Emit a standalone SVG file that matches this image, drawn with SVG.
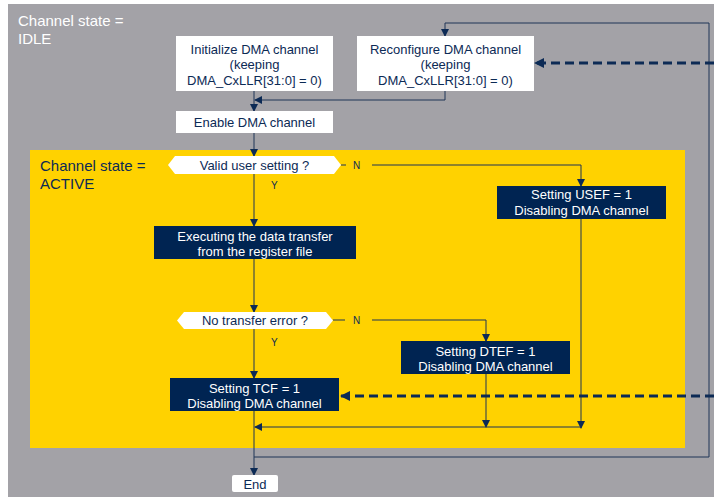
<svg xmlns="http://www.w3.org/2000/svg" width="714" height="497" viewBox="0 0 714 497">
  <style>
    .t { font-family: "Liberation Sans", Arial, sans-serif; font-size: 13px; text-anchor: middle; }
    .dk { fill: #0c2a55; }
    .wt { fill: #ffffff; }
    .lbl { font-family: "Liberation Sans", Arial, sans-serif; font-size: 10px; fill: #0c2a55; }
    .state { font-family: "Liberation Sans", Arial, sans-serif; font-size: 15px; }
    .wbox { fill: #ffffff; }
    .nbox { fill: #002452; }
    .ln { fill: none; stroke: #1f3556; stroke-width: 1; }
    .dash { fill: none; stroke: #0c2a55; stroke-width: 3; stroke-dasharray: 9 5; }
  </style>
  <defs>
    <marker id="arr" markerWidth="8" markerHeight="8" refX="7" refY="4" orient="auto" markerUnits="userSpaceOnUse">
      <path d="M0,0 L8,4 L0,8 Z" fill="#0c2a55"/>
    </marker>
    <marker id="arrB" markerWidth="10" markerHeight="10" refX="9" refY="5" orient="auto" markerUnits="userSpaceOnUse">
      <path d="M0,0 L10,5 L0,10 Z" fill="#0c2a55"/>
    </marker>
  </defs>

  <!-- background and state regions -->
  <rect x="0" y="0" width="714" height="497" fill="#ffffff"/>
  <rect x="8" y="4" width="706" height="493" fill="#a3a2a7"/>
  <rect x="30" y="150" width="655" height="298" fill="#ffd200"/>
  <text class="state wt" x="18" y="26">Channel state =</text>
  <text class="state wt" x="18" y="44">IDLE</text>
  <text class="state dk" x="40" y="171">Channel state =</text>
  <text class="state dk" x="40" y="189">ACTIVE</text>

  <!-- connectors -->
  <g id="connectors">
    <path class="ln" d="M254,91 V111" marker-end="url(#arr)"/>
    <path class="ln" d="M445,91 V100 H255" marker-end="url(#arr)"/>
    <path class="ln" d="M709,457 V23 H445 V36" marker-end="url(#arr)"/>
    <path class="ln" d="M709,457 H254"/>
    <path class="ln" d="M254,133 V156" marker-end="url(#arr)"/>
    <path class="ln" d="M341,165 H346"/>
    <path class="ln" d="M372,165 H581 V186" marker-end="url(#arr)"/>
    <path class="ln" d="M254,174 V226" marker-end="url(#arr)"/>
    <path class="ln" d="M254,259 V312" marker-end="url(#arr)"/>
    <path class="ln" d="M333,320 H345"/>
    <path class="ln" d="M372,320 H486 V341" marker-end="url(#arr)"/>
    <path class="ln" d="M254,329 V378" marker-end="url(#arr)"/>
    <path class="ln" d="M486,374 V427" marker-end="url(#arr)"/>
    <path class="ln" d="M581,219 V428" marker-end="url(#arr)"/>
    <path class="ln" d="M581,427 H255" marker-end="url(#arr)"/>
    <path class="ln" d="M254,411 V475" marker-end="url(#arr)"/>
    <path class="dash" d="M714,63 H535" marker-end="url(#arrB)"/>
    <path class="dash" d="M714,396 H341" marker-end="url(#arrB)"/>
    <text class="lbl" x="353" y="169">N</text>
    <text class="lbl" x="271" y="189">Y</text>
    <text class="lbl" x="353" y="324">N</text>
    <text class="lbl" x="271" y="346">Y</text>
  </g>

  <g id="init">
    <rect class="wbox" x="176" y="36" width="157" height="55"/>
    <text class="t dk" x="254.5" y="53.5">Initialize DMA channel</text>
    <text class="t dk" x="254.5" y="69">(keeping</text>
    <text class="t dk" x="254.5" y="84.5">DMA_CxLLR[31:0] = 0)</text>
  </g>
  <g id="reconfigure">
    <rect class="wbox" x="357" y="36" width="177" height="55"/>
    <text class="t dk" x="445.5" y="53.5">Reconfigure DMA channel</text>
    <text class="t dk" x="445.5" y="69">(keeping</text>
    <text class="t dk" x="445.5" y="84.5">DMA_CxLLR[31:0] = 0)</text>
  </g>
  <g id="enable">
    <rect class="wbox" x="176" y="111" width="157" height="22"/>
    <text class="t dk" x="254.5" y="126.5">Enable DMA channel</text>
  </g>
  <g id="valid">
    <polygon class="wbox" points="168,165 175,156 334,156 341,165 334,174 175,174"/>
    <text class="t dk" x="254.5" y="169.5">Valid user setting ?</text>
  </g>
  <g id="usef">
    <rect class="nbox" x="497" y="186" width="169" height="33"/>
    <text class="t wt" x="581.5" y="198.5">Setting USEF = 1</text>
    <text class="t wt" x="581.5" y="215">Disabling DMA channel</text>
  </g>
  <g id="execute">
    <rect class="nbox" x="154" y="226" width="202" height="33"/>
    <text class="t wt" x="255" y="240.5">Executing the data transfer</text>
    <text class="t wt" x="255" y="255.5">from the register file</text>
  </g>
  <g id="noerror">
    <polygon class="wbox" points="177,320.5 184,312 326,312 333,320.5 326,329 184,329"/>
    <text class="t dk" x="255" y="325">No transfer error ?</text>
  </g>
  <g id="dtef">
    <rect class="nbox" x="401" y="341" width="169" height="33"/>
    <text class="t wt" x="485.5" y="355.5">Setting DTEF = 1</text>
    <text class="t wt" x="485.5" y="370.5">Disabling DMA channel</text>
  </g>
  <g id="tcf">
    <rect class="nbox" x="170" y="378" width="169" height="33"/>
    <text class="t wt" x="254.5" y="392.5">Setting TCF = 1</text>
    <text class="t wt" x="254.5" y="408">Disabling DMA channel</text>
  </g>
  <g id="end">
    <rect class="wbox" x="232" y="475" width="46" height="17" rx="2"/>
    <text class="t dk" x="255" y="488.5">End</text>
  </g>
</svg>
